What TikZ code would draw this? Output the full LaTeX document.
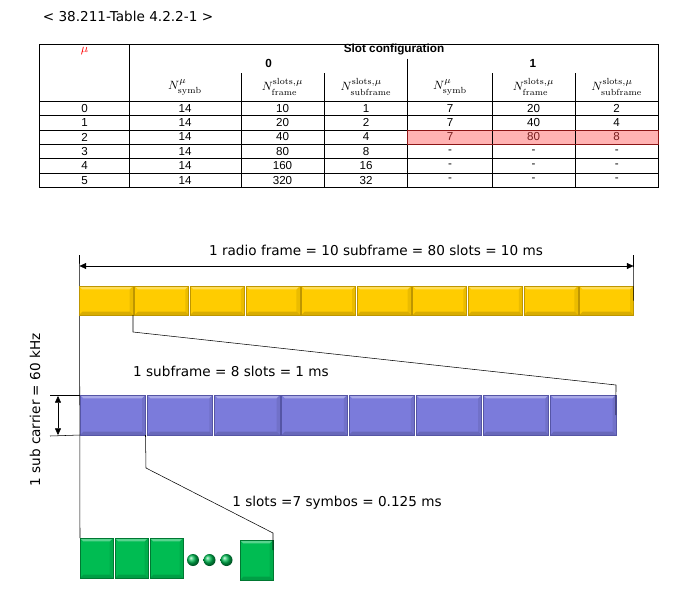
\documentclass[tikz,border=0pt]{standalone}
\usepackage{amsmath,amssymb}
\usepackage{fontspec}
\newfontfamily\arialf{Liberation Sans}
\newfontfamily\verdf{DejaVu Sans}
\usetikzlibrary{arrows.meta}

\definecolor{frameyellow}{RGB}{255,204,0}
\definecolor{frameyellowdk}{RGB}{190,150,0}
\definecolor{subviolet}{RGB}{123,123,219}
\definecolor{subvioletdk}{RGB}{85,85,165}
\definecolor{symgreen}{RGB}{0,188,82}
\definecolor{symgreendk}{RGB}{0,120,50}
\definecolor{hlpink}{RGB}{255,178,178}
\definecolor{hlred}{RGB}{140,20,20}
\definecolor{hltext}{RGB}{120,30,30}

\tikzset{
  bevel/.style={path picture={
    \fill[white,opacity=.35] (path picture bounding box.north west) -- (path picture bounding box.north east)
      -- ([xshift=-2.5pt,yshift=-2.5pt]path picture bounding box.north east) -- ([xshift=2.5pt,yshift=-2.5pt]path picture bounding box.north west) -- cycle;
    \fill[black,opacity=.15] (path picture bounding box.south west) -- (path picture bounding box.south east)
      -- ([xshift=-2.5pt,yshift=2.5pt]path picture bounding box.south east) -- ([xshift=2.5pt,yshift=2.5pt]path picture bounding box.south west) -- cycle;
    \fill[black,opacity=.08] (path picture bounding box.north east) -- (path picture bounding box.south east)
      -- ([xshift=-2.5pt,yshift=2.5pt]path picture bounding box.south east) -- ([xshift=-2.5pt,yshift=-2.5pt]path picture bounding box.north east) -- cycle;
  }},
  frameslot/.style={bevel,fill=frameyellow,draw=frameyellowdk,inner sep=0pt,outer sep=0pt,minimum width=40.5pt,minimum height=21.75pt},
  subslot/.style={bevel,fill=subviolet,draw=subvioletdk,inner sep=0pt,outer sep=0pt,minimum width=49.1pt,minimum height=30pt},
  symbox/.style={bevel,fill=symgreen,draw=symgreendk,inner sep=0pt,outer sep=0pt,minimum width=24.75pt,minimum height=30pt},
  symball/.style={circle,shading=ball,ball color=symgreen,inner sep=0pt,minimum size=9pt},
  cell/.style={font=\arialf\fontsize{8.7}{9}\selectfont,inner sep=0pt},
  bcell/.style={font=\arialf\bfseries\fontsize{8.8}{9}\selectfont,inner sep=0pt},
  hcell/.style={font=\fontsize{9.5}{10}\selectfont,inner sep=0pt},
  lbl/.style={font=\verdf\fontsize{10.2}{12}\selectfont,inner sep=0pt},
  dimarrow/.style={{Triangle[length=5pt,width=4.5pt]}-{Triangle[length=5pt,width=4.5pt]}},
}

\begin{document}
\begin{tikzpicture}[x=0.75pt,y=-0.75pt]
    \useasboundingbox (0,0) rectangle (674,590);

    \node[lbl] (title) at (128,16) {< 38.211-Table 4.2.2-1 >};

    % table
    \filldraw[fill=hlpink,draw=none] (407.7,129.8) rectangle (658.3,144.2);
    \draw (39.5,44) rectangle (658.3,187.4);
    \draw (129.5,44) -- (129.5,187.4);
    \draw (407.7,58.7) -- (407.7,187.4);
    \foreach \x in {241,324,492.3,575}
        \draw (\x,73) -- (\x,187.4);
    \foreach \y in {101,115.4,129.8,144.2,158.6,173}
        \draw (39.5,\y) -- (658.3,\y);
    \draw[hlred] (407.7,129.8) rectangle (658.3,144.2);

    \node[hcell,red] (mu) at (84.5,51) {$\mu$};
    \node[bcell] (slot) at (394,49.5) {Slot configuration};
    \node[bcell] (cfg0) at (268.6,63.5) {0};
    \node[bcell] (cfg1) at (533,63.5) {1};

    \node[hcell] (n1) at (185,87) {$N^{\mu}_{\mathrm{symb}}$};
    \node[hcell] (n2) at (282.5,87) {$N^{\mathrm{slots},\mu}_{\mathrm{frame}}$};
    \node[hcell] (n3) at (366,87) {$N^{\mathrm{slots},\mu}_{\mathrm{subframe}}$};
    \node[hcell] (n4) at (450,87) {$N^{\mu}_{\mathrm{symb}}$};
    \node[hcell] (n5) at (533.5,87) {$N^{\mathrm{slots},\mu}_{\mathrm{frame}}$};
    \node[hcell] (n6) at (616.7,87) {$N^{\mathrm{slots},\mu}_{\mathrm{subframe}}$};

    \foreach \m/\a/\b/\c/\d/\e/\f [count=\r from 0] in
        {0/14/10/1/7/20/2, 1/14/20/2/7/40/4, 2/14/40/4/7/80/8,
         3/14/80/8/-/-/-, 4/14/160/16/-/-/-, 5/14/320/32/-/-/-}{
        \ifnum\r=2 \def\hc{hltext}\else\def\hc{black}\fi
        \node[cell] (r\r c0) at (84.5,{108.2+14.4*\r}) {\m};
        \node[cell] (r\r c1) at (185,{108.2+14.4*\r}) {\a};
        \node[cell] (r\r c2) at (282.5,{108.2+14.4*\r}) {\b};
        \node[cell] (r\r c3) at (366,{108.2+14.4*\r}) {\c};
        \node[cell,text=\hc] (r\r c4) at (450,{108.2+14.4*\r}) {\d};
        \node[cell,text=\hc] (r\r c5) at (533.5,{108.2+14.4*\r}) {\e};
        \node[cell,text=\hc] (r\r c6) at (616.7,{108.2+14.4*\r}) {\f};
    }

    % frame / subframe / slot
    \coordinate (t1) at (79.5,255);
    \coordinate (t2) at (633.5,255);
    \coordinate (a1) at (79.5,266);
    \coordinate (a2) at (633.5,266);
    \node[lbl] (radio) at (376,250) {1 radio frame = 10 subframe = 80 slots = 10 ms};

    \node[symbox] (g1) at (96.5,558) {};
    \draw (t1) -- (g1.north west);

    \foreach \i in {0,...,9}
        \node[frameslot] (y\i) at ({106+55.6*\i},300.5) {};
    \draw (t2) -- (y9.east);
    \draw[dimarrow] (a1) -- (a2);

    \foreach \i in {0,...,7}
        \node[subslot] (p\i) at ({112.75+67.2*\i},415) {};
    \node[lbl] (subtxt) at (231,371) {1 subframe = 8 slots = 1 ms};

    \coordinate (k1) at (133,332);
    \coordinate (k2) at (616,385);
    \draw (y0.south east) -- (k1) -- (k2) -- (p7.east);

    \coordinate (h1) at (50,395);
    \coordinate (h2) at (50,436);
    \coordinate (v1) at (58,396);
    \coordinate (v2) at (58,435);
    \draw (h1) -- (p0.north west);
    \draw (h2) -- (p0.south west);
    \draw[dimarrow] (v1) -- (v2);
    \node[lbl,rotate=90] (sc) at (35,410) {1 sub carrier = 60 kHz};

    \node[symbox] (g2) at (131.5,558) {};
    \node[symbox] (g3) at (166.5,558) {};
    \node[symball] (d1) at (193,560) {};
    \node[symball] (d2) at (209.5,560) {};
    \node[symball] (d3) at (226.5,560) {};
    \node[symbox] (g4) at (256.5,560) {};
    \node[lbl] (slottxt) at (337,503) {1 slots =7 symbos = 0.125 ms};

    \coordinate (k3) at (146,468);
    \coordinate (k4) at (273,533);
    \coordinate (k5) at (273,550);
    \draw (p0.south east) -- (k3) -- (k4) -- (k5);

\end{tikzpicture}
\end{document}
